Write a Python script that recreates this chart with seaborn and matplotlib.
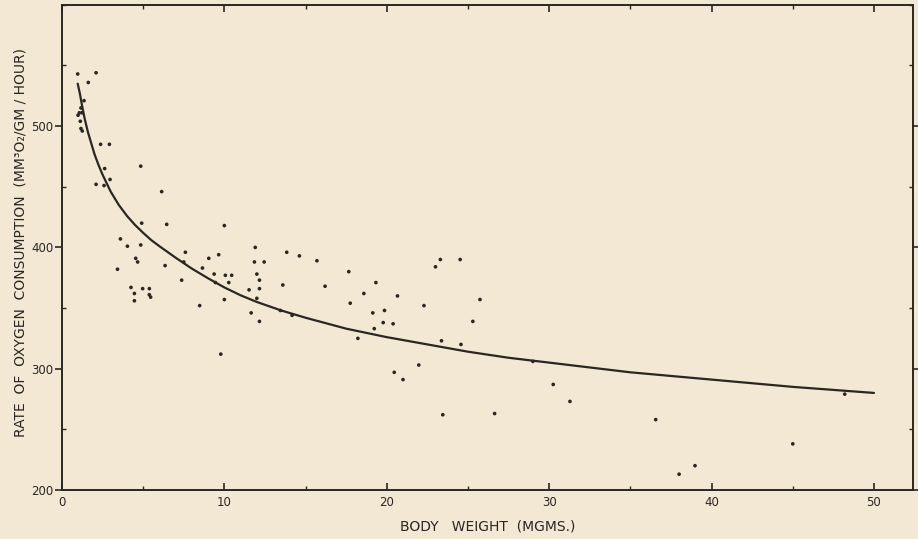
import matplotlib
matplotlib.use("Agg")
import matplotlib.pyplot as plt
from matplotlib.ticker import MultipleLocator
import seaborn as sns
import pandas as pd

# measured points: body weight (mg) and oxygen consumption rate
weight = [0.97, 2.1, 1.62, 1.36, 1.17, 1.07, 1.23, 0.99, 1.13, 1.17, 1.25,
          2.38, 2.92, 4.85, 2.63, 2.96, 2.1, 2.59, 6.14, 4.91, 6.45, 10.0,
          3.6, 4.03, 4.85, 4.54, 4.66, 3.42, 6.35, 7.6, 7.5, 7.37, 9.04,
          9.65, 8.65, 9.37, 10.06, 10.45, 9.45, 10.27, 10.0, 8.48, 9.78,
          4.25, 4.46, 4.46, 4.97, 5.38, 5.38, 5.46, 11.9, 11.85, 12.45,
          13.84, 14.62, 15.7, 12.0, 12.16, 11.52, 12.16, 12.0, 13.6, 16.2,
          11.65, 12.16, 13.45, 14.17, 17.66, 17.75, 18.22, 18.59, 19.33,
          19.14, 19.23, 19.86, 19.78, 20.39, 20.66, 20.46, 21.0, 21.97,
          22.29, 23.0, 23.3, 24.52, 23.37, 23.45, 24.57, 25.3, 25.74, 26.64,
          29.0, 30.25, 31.28, 36.56, 38.0, 38.98, 45.0, 48.2]
rate = [543, 544, 536, 521, 515, 511, 511, 509, 504, 498, 496,
        485, 485, 467, 465, 456, 452, 451, 446, 420, 419, 418,
        407, 401, 402, 391, 388, 382, 385, 396, 388, 373, 391,
        394, 383, 378, 377, 377, 371, 371, 357, 352, 312,
        367, 362, 356, 366, 366, 361, 359, 400, 388, 388,
        396, 393, 389, 378, 373, 365, 366, 358, 369, 368,
        346, 339, 348, 344, 380, 354, 325, 362, 371,
        346, 333, 348, 338, 337, 360, 297, 291, 303,
        352, 384, 390, 390, 323, 262, 320, 339, 357, 263,
        306, 287, 273, 258, 213, 220, 238, 279]

# fitted curve
curve_w = [0.97, 1.1, 1.25, 1.4, 1.6, 1.8, 2, 2.25, 2.5, 2.75, 3, 3.5, 4,
           4.5, 5, 5.5, 6, 7, 8, 9, 10, 11, 12, 13.5, 15, 17.5, 20, 22.5,
           25, 27.5, 30, 35, 40, 45, 50]
curve_r = [535, 527, 516, 506, 495, 486, 477, 468, 460, 453, 446, 435, 426,
           418.5, 412, 406, 401, 391.5, 382.5, 374.5, 367, 360.5, 355, 348,
           342, 333, 326, 320, 314, 309, 305, 297, 291, 285, 280]

pts = pd.DataFrame({"weight": weight, "rate": rate})
fit = pd.DataFrame({"weight": curve_w, "rate": curve_r})

paper = "#f3e8d4"
ink = "#2a2622"

sns.set_theme(style="ticks")
plt.rcParams["font.family"] = ["DejaVu Sans"]

fig = plt.figure(figsize=(9.18, 5.39), dpi=100, facecolor=paper)
ax = fig.add_axes([0.0675, 0.091, 0.927, 0.9])
ax.set_facecolor(paper)

sns.scatterplot(data=pts, x="weight", y="rate", ax=ax, s=7, color=ink,
                edgecolor="none", legend=False)
sns.lineplot(data=fit, x="weight", y="rate", ax=ax, color=ink, lw=1.6,
             sort=True)

ax.set_xlim(0, 52.4)
ax.set_ylim(200, 600)

for side in ["left", "bottom", "right", "top"]:
    ax.spines[side].set_visible(True)
    ax.spines[side].set_color(ink)
    ax.spines[side].set_linewidth(1.4)

ax.xaxis.set_major_locator(MultipleLocator(10))
ax.xaxis.set_minor_locator(MultipleLocator(5))
ax.yaxis.set_major_locator(MultipleLocator(100))
ax.yaxis.set_minor_locator(MultipleLocator(50))

ax.tick_params(axis="x", which="major", direction="in", length=5, width=1.2,
               colors=ink, labelsize=8.5, pad=4, top=True)
ax.tick_params(axis="x", which="minor", direction="in", length=3, width=1,
               colors=ink, top=True)
ax.tick_params(axis="y", which="major", direction="out", length=5, width=1.2,
               colors=ink, labelsize=8.5, pad=1, right=True)
ax.tick_params(axis="y", which="minor", direction="in", length=3, width=1,
               colors=ink, right=True)
ax.set_yticks([200, 300, 400, 500])
ax.set_yticklabels(["200", "300", "400", "500"])

ax.set_xlabel("BODY   WEIGHT  (MGMS.)", fontsize=10, color=ink)
ax.xaxis.set_label_coords(0.5, -0.06)
ax.set_ylabel("RATE  OF  OXYGEN  CONSUMPTION  (MM³O₂/GM / HOUR)",
              fontsize=10, color=ink)
ax.yaxis.set_label_coords(-0.041, 0.51)

fig.savefig("out.png", dpi=100, facecolor=paper)
